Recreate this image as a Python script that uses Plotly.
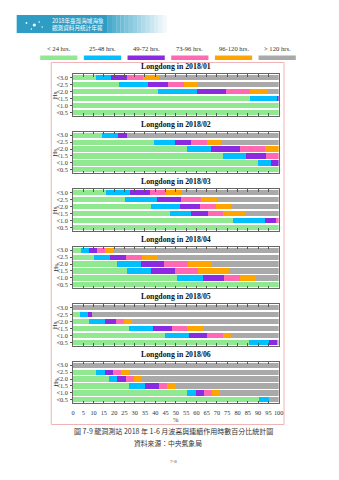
import plotly.graph_objects as go

# Wave height classes (top row first) and months shown
hs_classes = ["<3.0", "<2.5", "<2.0", "<1.5", "<1.0", "<0.5"]
months = ["2018/01", "2018/02", "2018/03", "2018/04", "2018/05", "2018/06"]
duration_labels = ["< 24 hrs.", "25-48 hrs.", "49-72 hrs.", "73-96 hrs.", "96-120 hrs.", "> 120 hrs."]
x_ticks = list(range(0, 101, 5))

# Percentage of hours per duration class; one list per month, rows follow hs_classes
dur_lt24 = [
    [11.0, 22.4, 41.3, 85.9, 100, 100],
    [14.3, 39.3, 55.3, 72.7, 90.0, 100],
    [16.2, 25.4, 37.8, 47.4, 77.9, 100],
    [4.0, 10.3, 21.3, 26.4, 50.6, 100],
    [0, 3.5, 7.9, 27.3, 44.8, 85.5],
    [0, 11.3, 17.5, 27.0, 55.2, 90.3],
]
dur_25_48 = [
    [7.4, 14.2, 19.1, 13.5, 0, 0],
    [7.6, 10.3, 11.6, 11.6, 6.2, 0],
    [11.6, 15.5, 14.0, 10.2, 15.4, 0],
    [3.8, 7.7, 11.6, 11.6, 12.4, 0],
    [0, 3.8, 7.7, 11.7, 11.6, 9.6],
    [0, 4.1, 4.1, 8.0, 4.6, 4.8],
]
dur_49_72 = [
    [8.0, 9.8, 14.0, 0.6, 0, 0],
    [4.5, 8.0, 14.5, 9.5, 3.8, 0],
    [9.6, 11.6, 10.0, 7.9, 5.6, 0],
    [4.0, 7.8, 11.3, 11.4, 10.4, 0],
    [0, 2.1, 5.4, 8.9, 8.6, 4.3],
    [0, 4.0, 4.0, 6.7, 3.8, 0],
]
dur_73_96 = [
    [7.6, 7.7, 11.5, 0, 0, 0],
    [0, 7.6, 12.1, 6.2, 0, 0],
    [7.8, 9.8, 7.7, 7.6, 1.1, 0],
    [3.8, 7.6, 11.8, 11.5, 8.0, 0],
    [0, 0, 4.0, 7.6, 7.7, 0],
    [0, 4.0, 4.1, 4.1, 3.8, 0],
]
dur_96_120 = [
    [7.7, 6.6, 8.9, 0, 0, 0],
    [0, 6.7, 6.5, 0, 0, 0],
    [7.9, 7.5, 7.4, 10.5, 0, 0],
    [3.8, 7.8, 11.4, 14.8, 7.6, 0],
    [0, 0, 3.6, 7.9, 3.9, 0],
    [0, 3.9, 4.0, 4.1, 4.1, 0],
]
dur_gt120 = [
    [58.3, 39.3, 5.2, 0, 0, 0],
    [73.6, 28.1, 0, 0, 0, 0],
    [46.9, 30.2, 23.1, 16.4, 0, 0],
    [80.6, 58.8, 32.6, 24.3, 11.0, 0],
    [100, 90.6, 71.4, 36.6, 23.4, 0.6],
    [100, 72.7, 66.3, 50.1, 28.5, 4.9],
]

series = [dur_lt24, dur_25_48, dur_49_72, dur_73_96, dur_96_120, dur_gt120]
colors = ["#90e890", "#00bfff", "#8a2be2", "#ff69b4", "#ffa500", "#a9a9a9"]

W, H = 339, 480
SERIF = "Liberation Serif"
CJK = "Noto Sans CJK TC"


def px_x(p):
    return p / W


def px_y(p):
    return 1 - p / H


def label(text, x, y, size, family=SERIF, color="#333333", **kw):
    d = dict(text=text, x=px_x(x), y=px_y(y), xref="paper", yref="paper",
             xanchor="center", yanchor="middle", showarrow=False,
             font=dict(family=family, size=size, color=color))
    d.update(kw)
    return d


# Plot area geometry in pixels
X0, X1 = 72.5, 282.5
TOP0, BOT0, STEP = 74.2, 115.8, 57.5

fig = go.Figure()
layout = dict(
    width=W, height=H, margin=dict(l=0, r=0, t=0, b=0),
    paper_bgcolor="white", plot_bgcolor="white",
    barmode="stack", bargap=0.25, showlegend=False,
    font=dict(family=SERIF, size=6, color="#333333"),
)
annotations = []
shapes = []

for m, month in enumerate(months):
    ax = "" if m == 0 else str(m + 1)
    for s, data in enumerate(series):
        fig.add_trace(go.Bar(
            x=data[m], y=hs_classes, orientation="h",
            marker=dict(color=colors[s], line=dict(width=0)),
            name=duration_labels[s],
            xaxis="x" + ax, yaxis="y" + ax,
            hoverinfo="skip",
        ))
    top, bot = TOP0 + STEP * m, BOT0 + STEP * m
    last = m == len(months) - 1
    layout["xaxis" + ax] = dict(
        domain=[px_x(X0), px_x(X1)], anchor="y" + ax, range=[0, 100],
        tickmode="array", tickvals=x_ticks, ticktext=[str(t) for t in x_ticks],
        showticklabels=last, ticks="inside", ticklen=2.5, tickwidth=0.6,
        tickcolor="#555555", showline=True, linecolor="#666666", linewidth=0.8,
        mirror="ticks", showgrid=False, zeroline=False, fixedrange=True,
        ticklabelstandoff=3,
        tickfont=dict(family=SERIF, size=6.3, color="#333333"),
    )
    layout["yaxis" + ax] = dict(
        domain=[px_y(bot), px_y(top)], anchor="x" + ax, type="category",
        categoryorder="array", categoryarray=hs_classes[::-1], range=[-0.5, 5.5],
        tickmode="array", tickvals=hs_classes, ticktext=hs_classes,
        ticks="outside", ticklen=2, tickwidth=0.6, tickcolor="#555555",
        showline=True, linecolor="#666666", linewidth=0.8, mirror=True,
        showgrid=False, zeroline=False, fixedrange=True, ticklabelstandoff=1,
        tickfont=dict(family=SERIF, size=6.3, color="#333333"),
    )
    annotations.append(label("<b>Longdong in %s</b>" % month, (X0 + X1) / 2, top - 7.5,
                             7.8, color="#111111"))
    annotations.append(label("Hs", 54.5, (top + bot) / 2, 7, textangle=-90))

# x-axis unit under the last panel
annotations.append(label("%", (X0 + X1) / 2, 419.5, 6.5))

# Legend: label above a colour swatch for each duration class
for k, (lab, col) in enumerate(zip(duration_labels, colors)):
    cx = 58 + 44.6 * k
    annotations.append(label(lab, cx, 48.3, 6.6))
    shapes.append(dict(
        type="rect", xref="paper", yref="paper",
        x0=px_x(cx - 19), x1=px_x(cx + 19), y0=px_y(60), y1=px_y(55.6),
        fillcolor=col, line=dict(width=0),
    ))

# Frame around the figure block
shapes.append(dict(
    type="rect", xref="paper", yref="paper",
    x0=px_x(50.3), x1=px_x(288), y0=px_y(424.5), y1=px_y(62.5),
    line=dict(color="#f0b4b4", width=1), fillcolor="rgba(0,0,0,0)", layer="below",
))

# Report header banner with a fading right end
n_fade = 14
shapes.append(dict(
    type="rect", xref="paper", yref="paper",
    x0=px_x(15), x1=px_x(108), y0=px_y(33), y1=px_y(15),
    fillcolor="#2f9cc4", line=dict(width=0), layer="below",
))
for i in range(n_fade):
    a = 1 - (i + 1) / (n_fade + 1)
    shapes.append(dict(
        type="rect", xref="paper", yref="paper",
        x0=px_x(108 + 4.3 * i), x1=px_x(108 + 4.3 * (i + 1)), y0=px_y(33), y1=px_y(15),
        fillcolor="rgba(60,165,200,%.3f)" % a, line=dict(width=0), layer="below",
    ))
for (dx, dy, r) in [(25, 23, 0.9), (33, 25, 1.6), (38, 22, 0.8), (30, 29, 0.7), (41, 27, 0.7)]:
    shapes.append(dict(
        type="circle", xref="paper", yref="paper",
        x0=px_x(dx - r), x1=px_x(dx + r), y0=px_y(dy + r), y1=px_y(dy - r),
        fillcolor="white", line=dict(width=0),
    ))
annotations.append(label("2018年臺灣海域海象", 49, 20.5, 5.6, family=CJK,
                         color="white", xanchor="left"))
annotations.append(label("觀測資料月統計年報", 49, 27.8, 5.6, family=CJK,
                         color="white", xanchor="left"))

# Caption, source and page number
annotations.append(label("圖 7-9 龍洞測站 2018 年 1-6 月波高與連續作用時數百分比統計圖",
                         175, 431, 7, family=CJK))
annotations.append(label("資料來源：中央氣象局", 170, 443, 6.8, family=CJK))
annotations.append(label("7-8", 175, 461.5, 5, color="#555555"))

layout["annotations"] = annotations
layout["shapes"] = shapes
fig.update_layout(**layout)
fig.write_html("out.html")
